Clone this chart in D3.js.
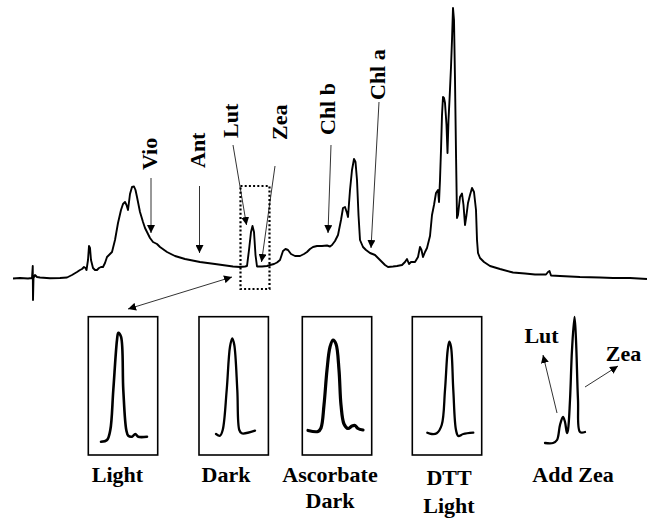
<!DOCTYPE html>
<html>
<head>
<meta charset="utf-8">
<script src="https://cdn.jsdelivr.net/npm/d3@7"></script>
<style>
  html, body { margin: 0; padding: 0; background: #fff; }
  svg { display: block; }
</style>
</head>
<body>
<script>
// ---------------- Full HPLC trace (retention time in s, absorbance in mAU) ----------------
const traceTime = [0, 28, 60, 76, 79, 80, 82, 88, 96, 108, 148, 188, 216, 236, 256, 268, 276, 284, 290, 294,
  300, 304, 308, 312, 320, 328, 336, 344, 352, 360, 368, 376, 388, 396, 408, 420, 432, 440, 448, 454,
  460, 468, 476, 484, 490, 496, 508, 520, 528, 540, 548, 560, 576, 588, 616, 648, 688, 748, 808, 880,
  908, 928, 936, 944, 952, 958, 964, 970, 976, 996, 1016, 1028, 1044, 1056, 1068, 1080, 1090, 1100, 1112, 1128,
  1148, 1164, 1176, 1188, 1200, 1216, 1236, 1256, 1268, 1276, 1288, 1300, 1312, 1320, 1328, 1336, 1340, 1348, 1356, 1364,
  1370, 1376, 1382, 1388, 1400, 1412, 1428, 1448, 1460, 1476, 1488, 1500, 1520, 1536, 1556, 1568, 1576, 1584, 1592, 1600,
  1608, 1620, 1628, 1634, 1640, 1648, 1656, 1668, 1676, 1684, 1692, 1700, 1704, 1708, 1712, 1716, 1720, 1724, 1728, 1734,
  1738, 1742, 1746, 1752, 1756, 1760, 1764, 1768, 1772, 1776, 1780, 1788, 1796, 1802, 1808, 1814, 1820, 1828, 1836, 1844,
  1852, 1856, 1860, 1868, 1884, 1908, 1948, 2000, 2048, 2088, 2132, 2140, 2146, 2152, 2188, 2268, 2348, 2400, 2468, 2536];
const traceAbs = [-0.5, 0, -0.5, 0, 12, -22, 0, 3, 1, 0.5, -0.3, 0, 0.5, 3, 6, 8, 9, 11, 10, 8,
  18, 32, 30, 18, 10, 8, 8, 10, 11, 11, 15, 21, 24, 26, 38, 55, 68, 74, 76, 73,
  68, 84, 91, 91.5, 88, 81, 66, 56, 50, 44, 40, 36, 34, 31, 26, 22, 19, 16, 14, 11.5,
  11, 11.5, 12, 28, 46, 52, 46, 23, 11.5, 11.5, 12, 13, 14, 15.5, 18, 27, 29, 28, 24, 22,
  22, 24, 26, 29, 31, 32, 32, 32.5, 31.5, 33, 37, 43, 58, 70, 71, 65, 61, 88, 108, 119,
  116, 98, 63, 38, 31, 28, 25, 23, 20, 16, 13, 11, 11.5, 12, 13, 16, 19, 14, 16, 16,
  16, 21, 31, 28, 21, 26, 30, 42, 63, 73, 85, 88, 76, 98, 128, 163, 181, 180, 175, 153,
  125, 158, 178, 211, 238, 270, 258, 198, 125, 60, 63, 81, 84.5, 73, 53, 63, 75, 83, 90, 86,
  68, 38, 25, 20, 16, 12, 9, 5.5, 4.5, 3.5, 3.5, 6, 7, 2.5, 2, 1, 0.5, 0, 0, -1];

// ---------------- Peak annotations on the full trace ----------------
const annLabels   = ["Vio", "Ant", "Lut", "Zea", "Chl b", "Chl a"];
const annTailTime = [552, 746, 880, 1048, 1272, 1464];
const annTailAbs  = [100, 92, 133, 112, 133, 176];
const annTipTime  = [552, 746, 934, 994, 1260, 1432];
const annTipAbs   = [45, 25, 53, 16, 45, 30];
const annTextTime = [576, 768, 900, 1096, 1288, 1488];
const annTextAbs  = [108, 110, 140, 138, 143, 178];

// Zoomed region (Lut / Zea window) and the link to the inset row
const windowTime = [910, 1026];
const windowAbs  = [-11, 92];
const linkTime   = [460, 876];
const linkAbs    = [-31, 1];

// ---------------- Inset chromatograms (local time, local absorbance) ----------------
const panelNames = ["Light", "Dark", "Ascorbate Dark", "DTT Light", "Add Zea"];
const panelLines = [["Light"], ["Dark"], ["Ascorbate", "Dark"], ["DTT", "Light"], ["Add Zea"]];

const lightTime = [12.7, 18.7, 22, 25, 28.7, 30, 32.7, 35, 38, 40, 43.7, 47, 50, 58.7];
const lightAbs  = [1.3, 3, 13, 53, 103, 110.3, 106.3, 53, 13, 7.3, 6.3, 9, 6.3, 6.3];

const darkTime = [17, 21, 23.7, 27.7, 31, 33.3, 35.3, 38.3, 40.3, 42.7, 56];
const darkAbs  = [9, 7.3, 13, 53, 96.3, 104.7, 98, 53, 13, 9.7, 12.3];

const ascTime = [5.7, 15.7, 18.7, 21.7, 24.7, 27.7, 30.7, 33.7, 36.7, 38.7, 41.7, 45.7, 49.7, 52.7, 55.7, 60.7];
const ascAbs  = [12.5, 11.5, 15, 38, 73, 96, 103, 99, 73, 38, 19, 14.5, 17, 17.5, 14.5, 13];

const dttTime = [15, 19.4, 24.4, 29.4, 32.7, 35.4, 37, 38.7, 41, 43.7, 46, 51, 61];
const dttAbs  = [10.3, 9, 9.7, 18, 53, 93, 101.3, 96.3, 53, 13, 7, 9, 10.3];

const addZeaTime = [5, 13, 17, 20, 23, 25, 27, 28, 30, 32, 34.5, 36, 38, 40, 45];
const addZeaAbs  = [0, 0, 3, 18, 26, 21, 10, 13, 43, 93, 126, 103, 43, 11, 11];

// Peak call-outs on the co-injection trace
const coLabels   = ["Lut", "Zea"];
const coTailTime = [17, 45];
const coTailAbs  = [30, 56];
const coTipTime  = [3, 78];
const coTipAbs   = [88, 77];
const coTextTime = [1.5, 83.5];
const coTextAbs  = [100, 82];

// ---------------- Drawing ----------------
const W = 649, H = 520;
const FONT = "'Liberation Serif', 'Times New Roman', Times, serif";

const svg = d3.select("body").append("svg")
  .attr("width", W).attr("height", H)
  .style("background", "#fff");

svg.append("defs").append("marker")
  .attr("id", "head")
  .attr("viewBox", "0 0 10 10")
  .attr("refX", 10).attr("refY", 5)
  .attr("markerWidth", 8).attr("markerHeight", 8)
  .attr("markerUnits", "userSpaceOnUse")
  .attr("orient", "auto-start-reverse")
  .append("path").attr("d", "M0,0L10,5L0,10Z").attr("fill", "#000");

// Main trace scales
const x = d3.scaleLinear().domain([0, 2560]).range([13, 653]);
const y = d3.scaleLinear().domain([0, 270]).range([278, 8]);

const mainLine = d3.line()
  .x((d, i) => x(traceTime[i]))
  .y((d, i) => y(traceAbs[i]));

svg.append("path")
  .attr("d", mainLine(traceTime))
  .attr("fill", "none")
  .attr("stroke", "#000")
  .attr("stroke-width", 1.9)
  .attr("stroke-linejoin", "round");

// Annotation arrows and rotated labels
const ann = svg.append("g");
annLabels.forEach((lab, i) => {
  ann.append("line")
    .attr("x1", x(annTailTime[i])).attr("y1", y(annTailAbs[i]))
    .attr("x2", x(annTipTime[i])).attr("y2", y(annTipAbs[i]))
    .attr("stroke", "#333").attr("stroke-width", 1)
    .attr("marker-end", "url(#head)");
  const tx = x(annTextTime[i]), ty = y(annTextAbs[i]);
  ann.append("text")
    .attr("x", tx).attr("y", ty)
    .attr("transform", `rotate(-90,${tx},${ty})`)
    .attr("font-family", FONT).attr("font-weight", "bold").attr("font-size", 22)
    .attr("fill", "#000")
    .text(lab);
});

// Dotted window around the Lut / Zea pair
svg.append("rect")
  .attr("x", x(windowTime[0])).attr("y", y(windowAbs[1]))
  .attr("width", x(windowTime[1]) - x(windowTime[0]))
  .attr("height", y(windowAbs[0]) - y(windowAbs[1]))
  .attr("fill", "none").attr("stroke", "#000")
  .attr("stroke-width", 2.2).attr("stroke-dasharray", "2,2.2");

// Double-headed link from the window to the inset row
svg.append("line")
  .attr("x1", x(linkTime[0])).attr("y1", y(linkAbs[0]))
  .attr("x2", x(linkTime[1])).attr("y2", y(linkAbs[1]))
  .attr("stroke", "#333").attr("stroke-width", 1)
  .attr("marker-start", "url(#head)")
  .attr("marker-end", "url(#head)");

// Inset row
const panelLeft  = d3.scaleOrdinal().domain(panelNames).range([88.3, 199, 302.3, 412.3, 540]);
const panelLabel = d3.scaleOrdinal().domain(panelNames).range([117.5, 226, 330, 449, 573]);
const panelBase  = d3.scaleOrdinal().domain(panelNames).range([482, 482, 482, 485, 482]);
const panelGap   = d3.scaleOrdinal().domain(panelNames).range([26, 26, 26, 28, 26]);
const panelPen   = d3.scaleOrdinal().domain(panelNames).range([2.6, 2.3, 3.2, 2.3, 2.3]);
const boxed      = d3.scaleOrdinal().domain(panelNames).range([true, true, true, true, false]);

const ix = d3.scaleLinear().domain([0, 70]).range([0, 70]);
const iy = d3.scaleLinear().domain([0, 130]).range([443, 313]);

const panelTime = [lightTime, darkTime, ascTime, dttTime, addZeaTime];
const panelAbs  = [lightAbs, darkAbs, ascAbs, dttAbs, addZeaAbs];

panelNames.forEach((name, p) => {
  const g = svg.append("g").attr("transform", `translate(${panelLeft(name)},0)`);
  if (boxed(name)) {
    g.append("rect")
      .attr("x", ix(0)).attr("y", iy(126.3))
      .attr("width", ix(69.4) - ix(0))
      .attr("height", iy(-12) - iy(126.3))
      .attr("fill", "none").attr("stroke", "#000").attr("stroke-width", 1.6);
  }
  const t = panelTime[p], a = panelAbs[p];
  const ln = d3.line()
    .x((d, i) => ix(t[i]))
    .y((d, i) => iy(a[i]))
    .curve(d3.curveCatmullRom.alpha(0.5));
  g.append("path")
    .attr("d", ln(t))
    .attr("fill", "none").attr("stroke", "#000")
    .attr("stroke-width", panelPen(name)).attr("stroke-linejoin", "round").attr("stroke-linecap", "round");

  panelLines[p].forEach((txt, k) => {
    svg.append("text")
      .attr("x", panelLabel(name))
      .attr("y", panelBase(name) + k * panelGap(name))
      .attr("text-anchor", "middle")
      .attr("font-family", FONT).attr("font-weight", "bold").attr("font-size", 22)
      .attr("fill", "#000")
      .text(txt);
  });

  if (name === "Add Zea") {
    coLabels.forEach((lab, i) => {
      g.append("line")
        .attr("x1", ix(coTailTime[i])).attr("y1", iy(coTailAbs[i]))
        .attr("x2", ix(coTipTime[i])).attr("y2", iy(coTipAbs[i]))
        .attr("stroke", "#333").attr("stroke-width", 1)
        .attr("marker-end", "url(#head)");
      g.append("text")
        .attr("x", ix(coTextTime[i])).attr("y", iy(coTextAbs[i]))
        .attr("text-anchor", "middle")
        .attr("font-family", FONT).attr("font-weight", "bold").attr("font-size", 22)
        .attr("fill", "#000")
        .text(lab);
    });
  }
});
</script>
</body>
</html>
